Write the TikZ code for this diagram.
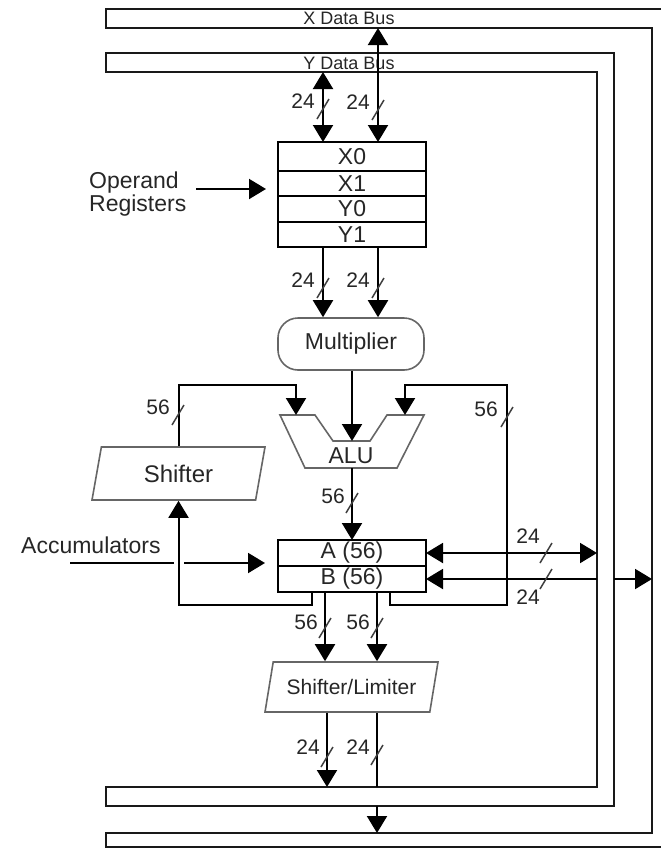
\documentclass[tikz,border=0pt]{standalone}
\usepackage{fontspec}
\setmainfont{Liberation Sans}
\usetikzlibrary{positioning, arrows.meta, shapes.geometric}
\tikzset{
  wire/.style={line width=2pt},
  bus/.style={line width=2.2pt, black!90},
  arw/.style={wire, -{Triangle[length=17pt, width=20pt]}},
  arwb/.style={wire, {Triangle[length=17pt, width=20pt]}-{Triangle[length=17pt, width=20pt]}},
  reg/.style={draw, line width=2pt, minimum width=148pt, minimum height=25.6pt,
    inner sep=0pt, outer sep=0pt, text=black!85, font=\fontsize{23}{23}\selectfont},
  unit/.style={draw=black!60, line width=1.6pt},
  mult/.style={unit, rounded corners=20pt, minimum width=146pt, minimum height=52pt,
    text=black!85, font=\fontsize{23}{23}\selectfont},
  skew/.style={unit, trapezium, trapezium left angle=62, trapezium right angle=118,
    trapezium stretches body, minimum width=173pt, minimum height=53pt, inner sep=0pt,
    text=black!85},
  lab/.style={text=black!85, inner sep=0pt, font=\fontsize{23}{23}\selectfont},
  side/.style={text=black!85, inner sep=0pt, font=\fontsize{23}{20}\selectfont},
  buslab/.style={text=black!85, inner sep=0pt, font=\fontsize{18}{18}\selectfont},
  wlab/.style={text=black!85, inner sep=0pt, font=\fontsize{21}{21}\selectfont},
  tick/.style={line width=1.5pt, black!75},
}
% width mark: a slash through a wire and its bit count
\newcommand{\wmark}[3][-8,-8]{%
  \draw[tick] ([shift={(-6,10)}]#2) -- ([shift={(6,-10)}]#2);
  \node[wlab, anchor=east] (#2l) at ([shift={(#1)}]#2) {#3};}

\begin{document}
\begin{tikzpicture}[x=1pt, y=-1pt]
  \useasboundingbox (0,0) rectangle (661,849);

  % data buses
  \draw[bus] (670,9) -- (106,9) -- (106,28) -- (652,28) -- (652,833)
    -- (106,833) -- (106,847) -- (670,847);
  \draw[bus] (106,53) -- (614,53) -- (614,806) -- (106,806) -- (106,787)
    -- (597,787) -- (597,72) -- (106,72) -- cycle;
  \node[buslab] (xbus) at (349,18) {X Data Bus};
  \node[buslab] (ybus) at (349,63) {Y Data Bus};

  \coordinate (xbt) at (0,28);
  \coordinate (ybt) at (0,72);
  \coordinate (ybb) at (0,787);
  \coordinate (ybo) at (0,806);
  \coordinate (xbb) at (0,833);
  \coordinate (ybr) at (597,0);
  \coordinate (ybs) at (614,0);
  \coordinate (xbr) at (652,0);

  % operand registers
  \node[reg, minimum height=28.5pt] (x0) at (352,156.25) {X0};
  \node[reg, below=0pt of x0] (x1) {X1};
  \node[reg, below=0pt of x1] (y0) {Y0};
  \node[reg, below=0pt of y0] (y1) {Y1};

  \coordinate (cl) at (323,0);
  \coordinate (cr) at (378,0);
  \draw[arwb] (cl |- ybt) -- (cl |- x0.north);
  \draw[arwb] (cr |- xbt) -- (cr |- x0.north);
  \coordinate (w1) at (323,109);
  \coordinate (w2) at (378,110);
  \wmark{w1}{24}
  \wmark{w2}{24}

  \node[side, align=left, anchor=west] (opr) at (89,194) {Operand\\Registers};
  \coordinate (opin) at (196,189);
  \draw[arw, shorten >=12pt] (opin) -- (opin -| x1.west);

  % multiplier
  \node[mult] (mul) at (351,344) {Multiplier};
  \draw[arw] (cl |- y1.south) -- (cl |- mul.north);
  \draw[arw] (cr |- y1.south) -- (cr |- mul.north);
  \coordinate (w3) at (323,288);
  \coordinate (w4) at (378,288);
  \wmark{w3}{24}
  \wmark{w4}{24}

  % ALU
  \coordinate (alul) at (296,415);
  \coordinate (alum) at (352,441);
  \coordinate (alur) at (405,415);
  \coordinate (aluo) at (352,468);
  \draw[unit] (280,415) -- (315,415) -- (333,441) -- (370,441) -- (387,415)
    -- (424,415) -- (397,468) -- (305,468) -- cycle;
  \node[lab] (alu) at (351,456) {ALU};
  \draw[arw] (mul.south -| alum) -- (alum);

  % shifter
  \node[skew, font=\fontsize{24}{24}\selectfont] (shf) at (178.5,473.5) {Shifter};
  \coordinate (lt) at (296,385);
  \draw[arw] (shf.north) |- (lt) -- (alul);
  \coordinate (w5) at (178,415);
  \wmark{w5}{56}

  % accumulators
  \node[reg, minimum height=26pt] (a) at (352,553) {A (56)};
  \node[reg, minimum height=26pt, below=0pt of a] (b) {B (56)};
  \draw[arw] (aluo) -- (a.north);
  \coordinate (w7) at (352,503);
  \wmark[-7,-7]{w7}{56}

  \node[side, anchor=west] (accl) at (21,545) {Accumulators};
  \coordinate (acc0) at (70,563);
  \coordinate (acc1) at (174,563);
  \coordinate (acc2) at (184,563);
  \draw[wire] (acc0) -- (acc1);
  \draw[arw, shorten >=13pt] (acc2) -- (acc2 -| a.west);

  % feedback to shifter and ALU
  \coordinate (k1) at (312,605);
  \coordinate (k4) at (390,605);
  \coordinate (rt) at (507,385);
  \draw[arw] (k1 |- b.south) -- (k1) -| (shf.south);
  \draw[arw] (k4 |- b.south) -- (k4) -| (rt) -| (alur);
  \coordinate (w6) at (507,417);
  \wmark[-9,-8]{w6}{56}

  % accumulators to the buses
  \draw[arwb] (a.east) -- (a.east -| ybr);
  \draw[arw] (b.east -| ybr) -- (b.east);
  \draw[arw] (b.east -| ybs) -- (b.east -| xbr);
  \coordinate (w8) at (546,553);
  \coordinate (w9) at (546,579);
  \wmark[-6,-17]{w8}{24}
  \wmark[-6,18]{w9}{24}

  % shifter/limiter
  \node[skew, minimum height=50pt, font=\fontsize{21}{21}\selectfont] (sl)
    at (351.5,687) {Shifter/Limiter};
  \coordinate (k2) at (325,0);
  \coordinate (k3) at (377,0);
  \coordinate (k5) at (327,0);
  \draw[arw] (k2 |- b.south) -- (k2 |- sl.north);
  \draw[arw] (k3 |- b.south) -- (k3 |- sl.north);
  \coordinate (w10) at (325,628);
  \coordinate (w11) at (377,628);
  \wmark[-7,-6]{w10}{56}
  \wmark[-7,-6]{w11}{56}

  \draw[arw] (k5 |- sl.south) -- (k5 |- ybb);
  \draw[wire] (k3 |- sl.south) -- (k3 |- ybb);
  \draw[arw] (k3 |- ybo) -- (k3 |- xbb);
  \coordinate (w12) at (327,757);
  \coordinate (w13) at (377,755);
  \wmark[-7,-10]{w12}{24}
  \wmark[-7,-8]{w13}{24}
\end{tikzpicture}
\end{document}
